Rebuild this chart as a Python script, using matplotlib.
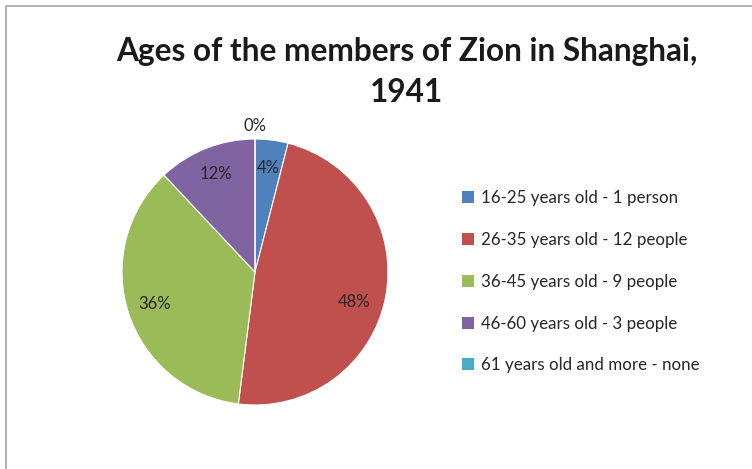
import numpy as np
import matplotlib
matplotlib.use("Agg")
import matplotlib.pyplot as plt
from matplotlib.patches import Patch
from matplotlib.lines import Line2D

labels = ["16-25 years old - 1 person", "26-35 years old - 12 people",
          "36-45 years old - 9 people", "46-60 years old - 3 people",
          "61 years old and more - none"]
counts = [1, 12, 9, 3, 0]
colors = ["#4F81BD", "#C0504D", "#9BBB59", "#8064A2", "#4BACC6"]

plt.rcParams['font.family'] = ['Lato', 'DejaVu Sans']

W, H = 752, 469
fig = plt.figure(figsize=(W / 100, H / 100), dpi=100)

# chart frame (only left and top visible)
fig.add_artist(Line2D([6 / W, 6 / W, 1.0], [0.0, 1 - 6 / H, 1 - 6 / H],
                      transform=fig.transFigure, color="#A6A6A6", lw=1.2))

fig.text(407 / W, 1 - 52 / H, "Ages of the members of Zion in Shanghai,",
         ha="center", va="center", fontsize=22.8, fontweight="bold", color="#1a1a1a")
fig.text(407 / W, 1 - 92 / H, "1941",
         ha="center", va="center", fontsize=22.8, fontweight="bold", color="#1a1a1a")

cx, cy, r = 255, 272, 133
ax = fig.add_axes([(cx - r) / W, (H - cy - r) / H, 2 * r / W, 2 * r / H])
wedges, texts, autotexts = ax.pie(
    counts, colors=colors, startangle=90, counterclock=False,
    autopct=lambda p: "%.0f%%" % p, pctdistance=0.79,
    wedgeprops=dict(edgecolor="white", linewidth=0.8),
    textprops=dict(fontsize=12, color="#262626"))
ax.set_xlim(-1, 1)
ax.set_ylim(-1, 1)

# the empty slice gets its label outside the pie
for w, t, c in zip(wedges, autotexts, counts):
    if c == 0:
        ang = np.deg2rad((w.theta1 + w.theta2) / 2)
        t.set_position((1.1 * np.cos(ang), 1.1 * np.sin(ang)))
    elif c == 12 and w.theta2 - w.theta1 > 90:
        # big slice label sits a bit lower, as in the original
        ang = np.deg2rad((w.theta1 + w.theta2) / 2 - 6)
        t.set_position((0.78 * np.cos(ang), 0.78 * np.sin(ang)))

handles = [Patch(facecolor=c, edgecolor="none") for c in colors]
fig.legend(handles, labels, loc="upper left", bbox_to_anchor=(447 / W, 1 - 175 / H),
           frameon=False, fontsize=12.2, labelspacing=1.52, handlelength=0.7,
           handleheight=0.7, handletextpad=0.4, labelcolor="#262626")

fig.savefig("out.png", dpi=100)
